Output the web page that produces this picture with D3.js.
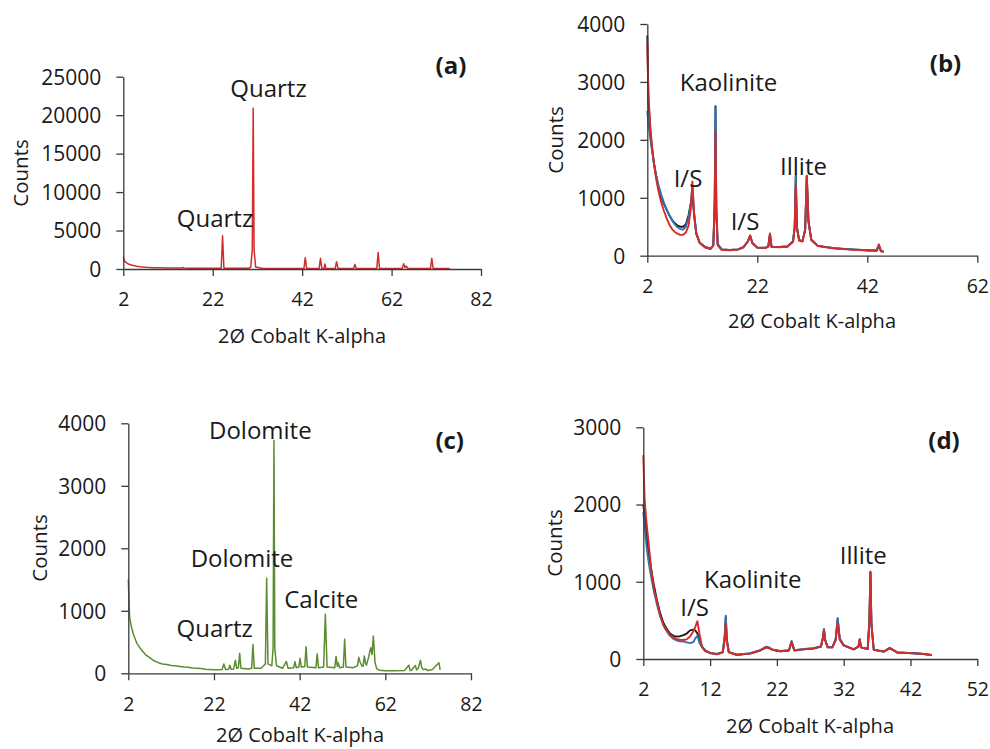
<!DOCTYPE html>
<html>
<head>
<meta charset="utf-8">
<script src="https://cdn.jsdelivr.net/npm/d3@7"></script>
<style>
  body { margin: 0; background: #fff; }
  svg text { font-family: "Open Sans", "Noto Sans", sans-serif; fill: #1a1a1a; }
</style>
</head>
<body>
<div id="chart"></div>
<script>
// ---- data ----
// (a) red pattern
var aX = [2, 2.2, 2.6, 3.1, 4, 5, 5.7, 7, 8.7, 10, 12, 14, 15.2, 15.4, 15.6, 17, 19, 21, 23, 23.9, 24.2, 24.5, 26, 28, 30, 30.5, 30.85, 31.05, 31.25, 31.6, 33, 36, 40, 42.4, 42.7, 43, 45, 45.8, 46.1, 46.4, 46.9, 47.1, 47.3, 49.4, 49.7, 50, 53.5, 53.8, 54.1, 57, 58.7, 59.0, 59.3, 62, 64.4, 64.7, 65.0, 65.3, 65.6, 68, 70.7, 71.0, 71.3, 73, 75];
var aY = [1600, 1100, 850, 650, 480, 360, 300, 230, 175, 160, 140, 130, 130, 200, 125, 110, 100, 95, 90, 100, 4330, 100, 90, 85, 90, 250, 2500, 20900, 2500, 250, 90, 80, 75, 80, 1470, 80, 75, 80, 1390, 80, 80, 650, 80, 75, 950, 75, 70, 600, 70, 70, 80, 2160, 80, 70, 80, 690, 200, 390, 80, 60, 70, 1390, 70, 60, 50];

// (b) three traces on a shared 2-theta grid
var bX = [2.0, 2.2, 2.5, 2.8, 3.2, 3.6, 4.0, 4.5, 5.0, 5.5, 6.0, 6.5, 7.0, 7.5, 8.0, 8.5, 9.0, 9.5, 9.9, 10.2, 10.5, 10.9, 11.5, 12.5, 13.5, 14.0, 14.25, 14.4, 14.55, 14.8, 15.5, 17, 18.5, 19.5, 20.3, 20.7, 21.1, 22, 23.5, 24.0, 24.3, 24.6, 26, 27.5, 28.5, 28.8, 29.0, 29.2, 29.6, 30.2, 30.7, 31.0, 31.3, 31.8, 33, 36, 39, 42, 43.7, 44.1, 44.5, 45];
var bBlack = [3800, 2700, 2200, 1900, 1600, 1380, 1200, 1020, 900, 800, 700, 620, 560, 520, 500, 500, 540, 700, 900, 1080, 700, 380, 230, 150, 120, 180, 900, 2580, 800, 200, 110, 100, 110, 150, 250, 340, 220, 140, 140, 160, 370, 150, 150, 160, 250, 500, 1400, 500, 270, 250, 450, 1370, 600, 280, 170, 130, 110, 95, 90, 170, 80, 70];
var bBlue = [2500, 2300, 2050, 1850, 1600, 1400, 1230, 1060, 920, 800, 700, 610, 540, 490, 460, 450, 500, 650, 900, 1190, 750, 400, 230, 150, 120, 180, 900, 2550, 800, 200, 110, 100, 110, 150, 250, 350, 220, 140, 135, 160, 380, 150, 150, 165, 250, 500, 1390, 500, 270, 250, 450, 1380, 600, 280, 170, 130, 110, 95, 90, 190, 80, 70];
var bRed = [3650, 2800, 2300, 1950, 1600, 1330, 1130, 930, 780, 650, 540, 460, 410, 380, 360, 360, 400, 520, 800, 1280, 750, 380, 220, 140, 115, 170, 800, 2150, 700, 180, 100, 95, 105, 145, 250, 350, 220, 140, 130, 160, 385, 150, 145, 155, 240, 480, 1220, 480, 260, 245, 440, 1380, 600, 270, 165, 125, 105, 90, 85, 195, 75, 65];

// (c) green pattern
var cX = [2, 2.3, 2.7, 3.2, 4, 5, 6, 7, 8, 9, 10, 11, 12, 13, 14, 15, 16, 17, 18, 19, 20, 21, 22, 23, 23.9, 24.3, 24.7, 25.4, 25.7, 26, 26.6, 27.0, 27.3, 27.7, 28.0, 28.3, 30, 30.8, 31.1, 31.4, 33, 34.0, 34.3, 34.6, 35.5, 35.8, 36.0, 36.2, 36.6, 38, 38.9, 39.3, 40.6, 40.9, 41.2, 41.8, 42.1, 42.4, 43.2, 43.5, 43.8, 45.8, 46.1, 46.4, 47.6, 48.0, 48.4, 50.2, 50.5, 50.8, 51.0, 51.3, 52.2, 52.5, 52.8, 54.5, 55.5, 55.8, 56.1, 56.5, 56.8, 57.1, 57.4, 57.6, 58.0, 58.6, 58.9, 59.2, 59.6, 60.0, 60.6, 62, 64, 66.5, 67.5, 67.8, 68.1, 69.0, 69.3, 69.7, 70.2, 70.5, 70.9, 71.5, 71.8, 72.2, 73, 74.5, 74.8, 75];
var cY = [1500, 900, 750, 620, 480, 380, 300, 250, 200, 170, 150, 140, 125, 120, 110, 100, 95, 85, 80, 75, 65, 60, 55, 55, 60, 150, 60, 65, 130, 65, 70, 210, 80, 90, 320, 80, 70, 80, 460, 80, 80, 150, 1520, 150, 120, 400, 3730, 400, 120, 80, 190, 80, 90, 185, 90, 100, 240, 100, 110, 425, 100, 90, 310, 90, 100, 945, 100, 90, 270, 110, 170, 90, 100, 545, 100, 90, 120, 255, 180, 120, 110, 275, 150, 130, 230, 410, 300, 595, 170, 70, 50, 40, 40, 45, 130, 45, 50, 125, 55, 80, 210, 90, 60, 70, 45, 50, 60, 170, 55];

// (d) three traces on a shared 2-theta grid
var dX = [2, 2.2, 2.5, 2.8, 3.2, 3.6, 4, 4.5, 5, 5.5, 6, 6.5, 7, 7.5, 8, 8.5, 9, 9.5, 9.8, 10.1, 10.4, 10.8, 11.3, 12, 13, 13.9, 14.2, 14.35, 14.5, 14.8, 16, 18, 19.5, 20.4, 20.8, 21.3, 22.5, 23.8, 24.2, 24.6, 26, 27.5, 28.6, 28.9, 29.05, 29.2, 29.6, 30.3, 30.8, 31.1, 31.4, 32, 33.5, 34.2, 34.4, 34.6, 35.6, 35.85, 36.0, 36.15, 36.5, 38, 38.9, 40, 42.5, 44, 45.2];
var dBlack = [2000, 1850, 1600, 1380, 1150, 950, 780, 600, 470, 390, 330, 300, 290, 295, 310, 330, 370, 380, 370, 330, 250, 160, 110, 80, 65, 90, 300, 550, 250, 90, 55, 70, 110, 150, 140, 120, 100, 110, 220, 110, 125, 135, 160, 280, 380, 250, 150, 150, 250, 520, 260, 175, 125, 160, 250, 150, 130, 500, 1120, 450, 120, 95, 140, 85, 75, 65, 50];
var dBlue = [1900, 1700, 1450, 1250, 1050, 870, 720, 560, 440, 360, 300, 260, 240, 230, 225, 215, 205, 220, 270, 300, 210, 150, 105, 75, 60, 90, 310, 560, 260, 90, 55, 75, 115, 160, 150, 125, 105, 115, 235, 115, 130, 140, 165, 290, 390, 260, 155, 155, 260, 530, 270, 180, 125, 160, 255, 150, 130, 500, 1130, 460, 120, 95, 145, 85, 75, 65, 50];
var dRed = [2640, 2060, 1750, 1500, 1150, 900, 760, 570, 440, 370, 310, 280, 255, 250, 246, 255, 290, 360, 420, 490, 330, 150, 100, 80, 60, 85, 250, 460, 220, 85, 52, 73, 110, 155, 145, 120, 100, 110, 220, 115, 125, 140, 160, 270, 380, 250, 150, 150, 240, 465, 250, 175, 125, 160, 255, 150, 130, 500, 1130, 450, 120, 95, 140, 85, 73, 65, 52];

var aTicksY = [0, 5000, 10000, 15000, 20000, 25000];
var aTicksX = [2, 22, 42, 62, 82];
var bTicksY = [0, 1000, 2000, 3000, 4000];
var bTicksX = [2, 22, 42, 62];
var cTicksY = [0, 1000, 2000, 3000, 4000];
var cTicksX = [2, 22, 42, 62, 82];
var dTicksY = [0, 1000, 2000, 3000];
var dTicksX = [2, 12, 22, 32, 42, 52];

var xTitle = "2\u00D8 Cobalt K-alpha";
var yTitle = "Counts";

var colRed = "#d42b2b", colBlue = "#2e74b5", colBlack = "#1a1a1a", colGreen = "#5b8c2f";

var svg = d3.select("#chart").append("svg")
    .attr("width", 990).attr("height", 749);

function zipSeries(xs, ys) {
    return xs.map(function(x, i) { return [x, ys[i]]; });
}

function drawPanel(p) {
    var x = d3.scaleLinear().domain(p.xDomain).range([p.left, p.right]);
    var y = d3.scaleLinear().domain(p.yDomain).range([p.bottom, p.top]);
    var g = svg.append("g");

    var line = d3.line()
        .x(function(d) { return x(d[0]); })
        .y(function(d) { return y(d[1]); });

    p.series.forEach(function(s) {
        g.append("path")
            .datum(zipSeries(s.x, s.y))
            .attr("fill", "none")
            .attr("stroke", s.color)
            .attr("stroke-width", p.lineWidth)
            .attr("stroke-linejoin", "round")
            .attr("d", line);
    });

    var yAxis = g.append("g")
        .attr("transform", "translate(" + p.left + ",0)")
        .call(d3.axisLeft(y).tickValues(p.yTicks).tickSize(7).tickSizeOuter(0).tickPadding(15)
              .tickFormat(d3.format("d")));
    var xAxis = g.append("g")
        .attr("transform", "translate(0," + p.bottom + ")")
        .call(d3.axisBottom(x).tickValues(p.xTicks).tickSize(7).tickSizeOuter(0).tickPadding(16.5)
              .tickFormat(d3.format("d")));

    [yAxis, xAxis].forEach(function(ax) {
        ax.select(".domain").attr("stroke", "#3a3a3a").attr("stroke-width", 1.3);
        ax.selectAll(".tick line").attr("stroke", "#3a3a3a").attr("stroke-width", 1.3);
        ax.selectAll(".tick text").attr("fill", "#1a1a1a")
            .style("font-family", "'Open Sans', sans-serif");
    });
    yAxis.selectAll(".tick text").style("font-size", "21px").attr("dy", "0.35em");
    xAxis.selectAll(".tick text").style("font-size", "19.5px");

    g.append("text")
        .attr("x", p.xTitle[0]).attr("y", p.xTitle[1])
        .attr("text-anchor", "middle")
        .style("font-size", "20px")
        .text(xTitle);

    g.append("text")
        .attr("transform", "translate(" + p.yTitle[0] + "," + p.yTitle[1] + ") rotate(-90)")
        .attr("text-anchor", "middle")
        .style("font-size", "20.5px")
        .text(yTitle);

    g.append("text")
        .attr("x", p.tag[0]).attr("y", p.tag[1])
        .attr("text-anchor", "middle")
        .style("font-size", "24px").style("font-weight", "bold")
        .text(p.tag[2]);

    p.labels.forEach(function(l) {
        g.append("text")
            .attr("x", l[0]).attr("y", l[1])
            .attr("text-anchor", "middle")
            .style("font-size", "24px")
            .text(l[2]);
    });
}

drawPanel({
    xDomain: [2, 82], yDomain: [0, 25000],
    left: 123.3, right: 481, top: 76.7, bottom: 269,
    xTicks: aTicksX, yTicks: aTicksY, lineWidth: 1.5,
    series: [{x: aX, y: aY, color: colRed}],
    xTitle: [302, 343], yTitle: [28, 173],
    tag: [451, 74, "(a)"],
    labels: [[268.5, 97, "Quartz"], [215, 227, "Quartz"]]
});

drawPanel({
    xDomain: [2, 62], yDomain: [0, 4000],
    left: 647.3, right: 977.3, top: 24, bottom: 255.7,
    xTicks: bTicksX, yTicks: bTicksY, lineWidth: 1.9,
    series: [{x: bX, y: bBlack, color: colBlack},
             {x: bX, y: bBlue, color: colBlue},
             {x: bX, y: bRed, color: colRed}],
    xTitle: [812, 328], yTitle: [563, 140],
    tag: [945.5, 72, "(b)"],
    labels: [[728.5, 90.5, "Kaolinite"], [688, 186.5, "I/S"], [745, 230, "I/S"], [803.5, 175, "Illite"]]
});

drawPanel({
    xDomain: [2, 82], yDomain: [0, 4000],
    left: 128.3, right: 471, top: 423.3, bottom: 673.3,
    xTicks: cTicksX, yTicks: cTicksY, lineWidth: 1.5,
    series: [{x: cX, y: cY, color: colGreen}],
    xTitle: [300, 742], yTitle: [46.5, 548],
    tag: [449.7, 449, "(c)"],
    labels: [[260.3, 439, "Dolomite"], [242, 566.5, "Dolomite"], [321.3, 607.5, "Calcite"], [214.7, 637, "Quartz"]]
});

drawPanel({
    xDomain: [2, 52], yDomain: [0, 3000],
    left: 643.3, right: 977.3, top: 427.3, bottom: 659,
    xTicks: dTicksX, yTicks: dTicksY, lineWidth: 1.9,
    series: [{x: dX, y: dBlack, color: colBlack},
             {x: dX, y: dBlue, color: colBlue},
             {x: dX, y: dRed, color: colRed}],
    xTitle: [810, 732.5], yTitle: [561.5, 543],
    tag: [944, 449, "(d)"],
    labels: [[752.7, 588, "Kaolinite"], [694.7, 616, "I/S"], [863.3, 564, "Illite"]]
});
</script>
</body>
</html>
